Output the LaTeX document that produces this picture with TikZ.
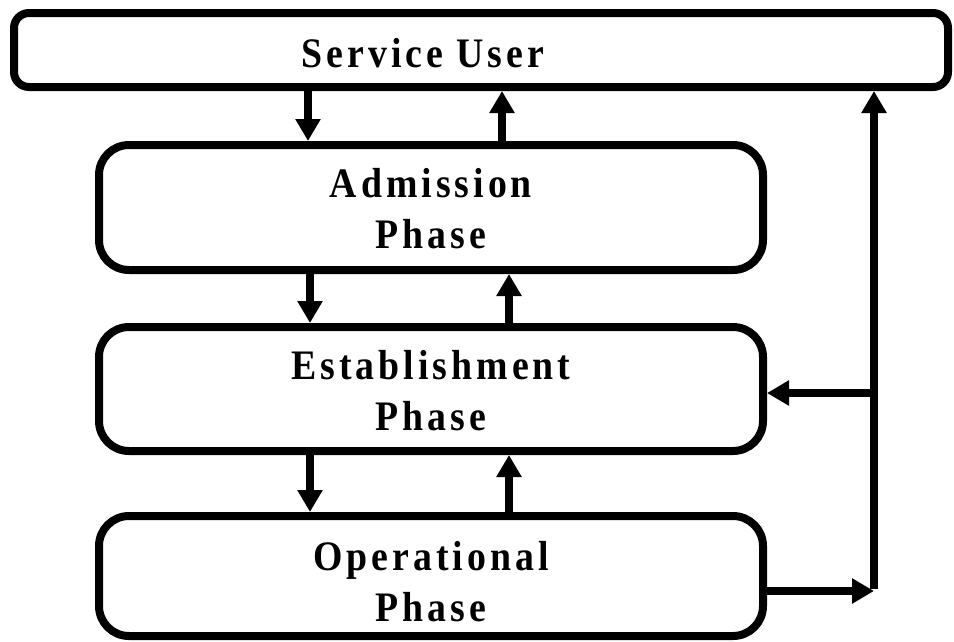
\documentclass[tikz,border=0pt]{standalone}
\usepackage{fontspec}
\setmainfont{Liberation Serif}[FakeStretch=0.9, LetterSpace=9.5]
\usetikzlibrary{arrows.meta}
\begin{document}
\begin{tikzpicture}[x=1pt,y=-1pt,
  box/.style={draw=black, line width=8pt, fill=white, inner sep=0pt},
  lbl/.style={align=center, anchor=base, font=\fontsize{42}{51}\selectfont\bfseries, inner sep=0pt},
  arr/.style={line width=8pt, -{Triangle[length=22pt,width=24pt]}}]
\useasboundingbox (0,0) rectangle (954,641);
\node[box, rounded corners=15pt, minimum width=934pt, minimum height=74pt] (su) at (481,50) {};
\node[box, rounded corners=30pt, minimum width=664pt, minimum height=125pt] (adm) at (431,207.5) {};
\node[box, rounded corners=30pt, minimum width=664pt, minimum height=124pt] (est) at (431,389) {};
\node[box, rounded corners=30pt, minimum width=664pt, minimum height=120pt] (op) at (431,576) {};
\node[lbl] (sut) at (423,67) {Service User};
\node[lbl] (admt) at (431,248) {Admission\\Phase};
\node[lbl] (estt) at (431,430) {Establishment\\Phase};
\node[lbl] (opt) at (431,621) {Operational\\Phase};
% vertical arrows
\draw[arr] (su.south -| 308,0) -- (adm.north -| 308,0);
\draw[arr] (adm.north -| 502,0) -- (su.south -| 502,0);
\draw[arr] (adm.south -| 310,0) -- (est.north -| 310,0);
\draw[arr] (est.north -| 509,0) -- (adm.south -| 509,0);
\draw[arr] (est.south -| 310,0) -- (op.north -| 310,0);
\draw[arr] (op.north -| 509,0) -- (est.south -| 509,0);
% right side loop
\coordinate (j1) at (874,591);
\coordinate (j2) at (874,393);
\draw[arr] (op.east |- j1) -- (j1);
\draw[arr] (j2) -- (est.east |- j2);
\draw[arr] ([yshift=2pt]j1) -- (j1 |- su.south);
\end{tikzpicture}
\end{document}
